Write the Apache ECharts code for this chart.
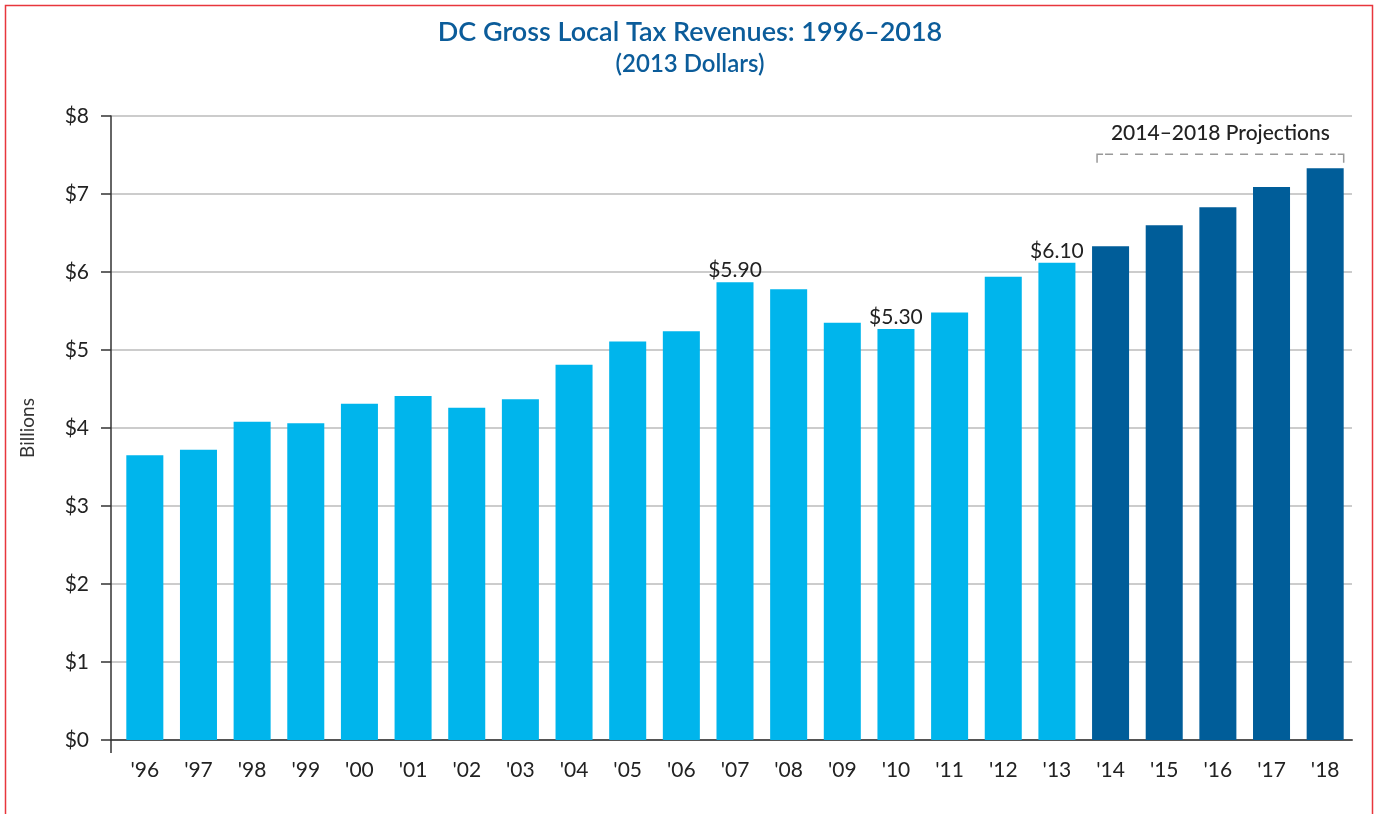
<!DOCTYPE html>
<html>
<head>
<meta charset="utf-8">
<title>DC Gross Local Tax Revenues</title>
<script src="https://cdn.jsdelivr.net/npm/echarts@6/dist/echarts.min.js"></script>
<style>
  html, body { margin: 0; padding: 0; background: #fff; }
  #chart { width: 1380px; height: 814px; }
</style>
</head>
<body>
<div id="chart"></div>
<script>
// categories
var years = ["'96","'97","'98","'99","'00","'01","'02","'03","'04","'05","'06","'07","'08","'09","'10","'11","'12","'13","'14","'15","'16","'17","'18"];
// actual revenues 1996-2013, billions (2013 dollars)
var actual = [3.65, 3.72, 4.08, 4.06, 4.31, 4.41, 4.26, 4.37, 4.81, 5.11, 5.24, 5.87, 5.78, 5.35, 5.27, 5.48, 5.94, 6.12];
// projections 2014-2018
var projected = [6.33, 6.60, 6.83, 7.09, 7.33];
// value callouts
var callouts = [["'07", '$5.90'], ["'10", '$5.30'], ["'13", '$6.10']];
var yTicks = [0, 1, 2, 3, 4, 5, 6, 7, 8];

var FONT = 'Lato';
var lightBlue = '#00b5ec';
var darkBlue = '#005d99';

var calloutMap = {};
callouts.forEach(function (c) { calloutMap[c[0]] = c[1]; });

var actualData = years.map(function (y, i) {
    if (i >= actual.length) return '-';
    var item = { value: actual[i] };
    if (calloutMap[y]) {
        item.label = { show: true, formatter: calloutMap[y] };
    }
    return item;
});
var projData = years.map(function (y, i) {
    return i < actual.length ? '-' : projected[i - actual.length];
});

var chart = echarts.init(document.getElementById('chart'));

chart.setOption({
    animation: false,
    textStyle: { fontFamily: FONT },
    title: {
        text: 'DC Gross Local Tax Revenues: 1996–2018',
        subtext: '(2013 Dollars)',
        left: 'center',
        top: 14,
        itemGap: 6,
        textStyle: { fontFamily: FONT, fontSize: 27, fontWeight: 600, color: '#0b5c9a' },
        subtextStyle: { fontFamily: FONT, fontSize: 24, fontWeight: 600, color: '#0b5c9a' }
    },
    grid: { left: 118, right: 28, top: 116, bottom: 74 },
    xAxis: {
        type: 'category',
        data: years,
        axisTick: { show: false },
        axisLine: { lineStyle: { color: '#555', width: 2 } },
        axisLabel: { color: '#222', fontSize: 21, margin: 20 }
    },
    yAxis: {
        type: 'value',
        min: yTicks[0],
        max: yTicks[yTicks.length - 1],
        interval: 1,
        offset: 7,
        name: 'Billions',
        nameLocation: 'middle',
        nameGap: 74,
        nameTextStyle: { color: '#333', fontSize: 19 },
        axisLine: { show: true, lineStyle: { color: '#333', width: 1.5 } },
        axisTick: { show: true, length: 10, lineStyle: { color: '#333', width: 1.5 } },
        axisLabel: { color: '#222', fontSize: 21, margin: 22, formatter: function (v) { return '$' + v; } },
        splitLine: { lineStyle: { color: '#bbb', width: 1.5 } }
    },
    series: [
        {
            type: 'bar',
            data: actualData,
            barWidth: '69%',
            barGap: '-100%',
            itemStyle: { color: lightBlue },
            label: { show: false, position: 'top', distance: 1, color: '#222', fontSize: 21 }
        },
        {
            type: 'bar',
            data: projData,
            barWidth: '69%',
            itemStyle: { color: darkBlue }
        }
    ]
});

// projection bracket over the '14-'18 bars, plus axis extensions and outer frame
function drawExtras() {
    var first = years[actual.length];
    var last = years[years.length - 1];
    var p1 = chart.convertToPixel({ gridIndex: 0 }, [first, 7.51]);
    var p2 = chart.convertToPixel({ gridIndex: 0 }, [last, 7.51]);
    var band = (p2[0] - p1[0]) / (years.length - 1 - actual.length);
    var half = band * 0.69 / 2;
    var pTick = chart.convertToPixel({ gridIndex: 0 }, [first, 7.40]);
    var pText = chart.convertToPixel({ gridIndex: 0 }, [first, 7.78]);
    var x1 = p1[0] - half + 5, x2 = p2[0] + half;
    var zero = chart.convertToPixel({ gridIndex: 0 }, [years[0], 0]);
    var axisX = zero[0] - band / 2 - 7;
    var grid = [];
    yTicks.forEach(function (t) {
        var py = chart.convertToPixel({ yAxisIndex: 0 }, t);
        grid.push({
            type: 'line', silent: true,
            shape: { x1: axisX, y1: py, x2: zero[0] - band / 2, y2: py },
            style: { stroke: t === 0 ? '#555' : '#bbb', lineWidth: t === 0 ? 2 : 1.5 }
        });
    });
    var bracketStyle = { stroke: '#999', lineWidth: 1.5 };
    chart.setOption({
        graphic: grid.concat([
            {
                type: 'rect', silent: true,
                shape: { x: 5.5, y: 5.5, width: 1367, height: 900 },
                style: { stroke: '#e8363c', lineWidth: 1.5, fill: null }
            },
            {
                type: 'line', silent: true,
                shape: { x1: axisX, y1: zero[1], x2: axisX, y2: zero[1] + 13 },
                style: { stroke: '#333', lineWidth: 1.5 }
            },
            {
                type: 'line', silent: true,
                shape: { x1: x1 + 8, y1: p1[1], x2: x2 - 8, y2: p1[1] },
                style: { stroke: '#999', lineWidth: 1.5, lineDash: [8, 7] }
            },
            {
                type: 'polyline', silent: true,
                shape: { points: [[x1, pTick[1]], [x1, p1[1]], [x1 + 6, p1[1]]] },
                style: bracketStyle
            },
            {
                type: 'polyline', silent: true,
                shape: { points: [[x2 - 6, p1[1]], [x2, p1[1]], [x2, pTick[1]]] },
                style: bracketStyle
            },
            {
                type: 'text', silent: true,
                x: (x1 + x2) / 2, y: pText[1],
                style: {
                    text: '2014–2018 Projections', fill: '#222', fontSize: 21,
                    fontFamily: FONT, fontWeight: 500, align: 'center', verticalAlign: 'middle'
                }
            }
        ])
    });
}
drawExtras();
</script>
</body>
</html>
